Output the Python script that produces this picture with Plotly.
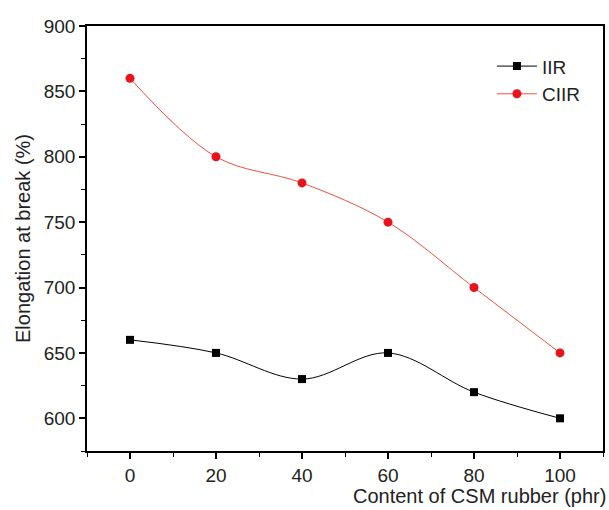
import plotly.graph_objects as go

content = [0, 20, 40, 60, 80, 100]
iir = [660, 650, 630, 650, 620, 600]
ciir = [860, 800, 780, 750, 700, 650]
x_ticks = [0, 20, 40, 60, 80, 100]
y_ticks = [600, 650, 700, 750, 800, 850, 900]

fig = go.Figure()
fig.add_trace(go.Scatter(
    x=content, y=iir, name="IIR", mode="lines+markers",
    line=dict(color="black", width=1, shape="spline", smoothing=1),
    marker=dict(symbol="square", size=8, color="black"),
))
fig.add_trace(go.Scatter(
    x=content, y=ciir, name="CIIR", mode="lines+markers",
    line=dict(color="#f0503c", width=1, shape="spline", smoothing=1),
    marker=dict(symbol="circle", size=9, color="#e8141c"),
))

font_family = "Liberation Sans, Arial, sans-serif"
fig.update_layout(
    width=609, height=510,
    margin=dict(l=87, r=4, t=26, b=59),
    paper_bgcolor="white", plot_bgcolor="white",
    font=dict(family=font_family, size=19, color="#222"),
    showlegend=True,
    legend=dict(x=0.965, y=0.95, xanchor="right", yanchor="top",
                bgcolor="rgba(0,0,0,0)", font=dict(size=19),
                itemwidth=40, tracegroupgap=0),
)
fig.update_xaxes(
    range=[-10, 110], tickvals=x_ticks, ticks="outside", ticklen=6,
    tickwidth=1.5, tickcolor="black",
    minor=dict(dtick=10, tick0=0, ticks="outside", ticklen=4, tickcolor="black", tickwidth=1.2),
    showline=True, linecolor="black", linewidth=1.5, mirror=True,
    showgrid=False, zeroline=False,
)
fig.update_yaxes(
    range=[575, 900], tickvals=y_ticks, ticks="outside", ticklen=6,
    tickwidth=1.5, tickcolor="black",
    minor=dict(dtick=25, tick0=575, ticks="outside", ticklen=4, tickcolor="black", tickwidth=1.2),
    showline=True, linecolor="black", linewidth=1.5, mirror=True,
    showgrid=False, zeroline=False,
    title=dict(text="Elongation at break (%)", font=dict(size=20), standoff=8),
)
fig.add_annotation(
    text="Content of CSM rubber (phr)", xref="paper", yref="paper",
    x=1.01, y=-0.076, xanchor="right", yanchor="top", showarrow=False,
    font=dict(size=20, color="#222", family=font_family),
)
fig.write_html("out.html", config={"displayModeBar": False},
               post_script="document.body.style.margin='0';document.body.style.overflow='hidden';")
